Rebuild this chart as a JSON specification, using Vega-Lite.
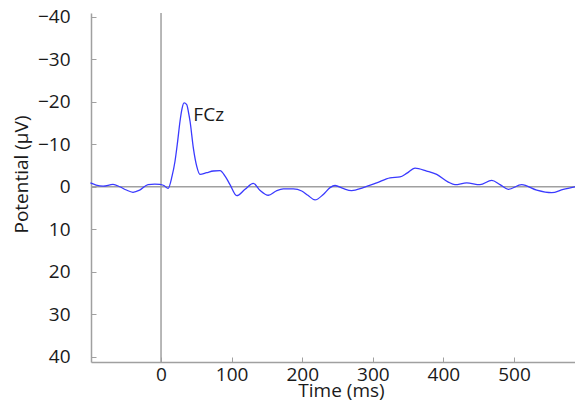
{
  "$schema": "https://vega.github.io/schema/vega-lite/v6.json",
  "width": 484,
  "height": 349,
  "autosize": {"type": "none"},
  "padding": {"left": 91, "top": 13, "right": 0, "bottom": 40},
  "background": "white",
  "config": {
    "view": {"stroke": null},
    "axis": {
      "grid": false,
      "domainColor": "#a0a0a0",
      "domainWidth": 1.5,
      "tickColor": "#a0a0a0",
      "tickWidth": 1,
      "tickSize": -5,
      "labelFont": "Open Sans",
      "labelFontSize": 19,
      "labelColor": "#1a1a1a",
      "titleFont": "Open Sans",
      "titleFontSize": 19,
      "titleFontWeight": "normal",
      "titleColor": "#1a1a1a"
    },
    "axisX": {
      "labelPadding": 8,
      "labelBaseline": "top",
      "titleX": 250,
      "titleY": 34,
      "titleBaseline": "alphabetic",
      "titleAlign": "center"
    },
    "axisY": {
      "labelPadding": 26,
      "titleX": -70,
      "titleY": 161,
      "titleBaseline": "middle",
      "titleAlign": "center",
      "titleAngle": -90
    }
  },
  "layer": [
    {
      "data": {"values": [{"t": 0}]},
      "mark": {"type": "rule", "color": "#a0a0a0", "strokeWidth": 1.5},
      "encoding": {
        "x": {"field": "t", "type": "quantitative", "scale": {"domain": [-99.2, 586.4], "nice": false, "zero": false}, "title": "Time (ms)", "axis": {"values": [0, 100, 200, 300, 400, 500]}}
      }
    },
    {
      "data": {"values": [{"v": 0}]},
      "mark": {"type": "rule", "color": "#a0a0a0", "strokeWidth": 1.5},
      "encoding": {
        "y": {"field": "v", "type": "quantitative", "scale": {"domain": [-40.85, 41.2], "nice": false, "zero": false, "reverse": true}, "title": "Potential (μV)", "axis": {"values": [-40, -30, -20, -10, 0, 10, 20, 30, 40]}}
      }
    },
    {
      "data": {"values": [
        {"t": -100, "v": -0.9}, {"t": -92, "v": -0.4}, {"t": -82, "v": -0.15}, {"t": -68, "v": -0.55},
        {"t": -58.5, "v": 0}, {"t": -50, "v": 0.7}, {"t": -39.7, "v": 1.3}, {"t": -30.2, "v": 0.8},
        {"t": -18.4, "v": -0.5}, {"t": -8.9, "v": -0.6}, {"t": -1.8, "v": -0.55}, {"t": 4, "v": -0.3},
        {"t": 10, "v": 0.4}, {"t": 15.6, "v": -2.5}, {"t": 19.8, "v": -6}, {"t": 23.4, "v": -10.5},
        {"t": 26.9, "v": -15.4}, {"t": 29.7, "v": -18.3}, {"t": 32.6, "v": -19.7}, {"t": 36.4, "v": -19.3},
        {"t": 38.9, "v": -17.5}, {"t": 41.1, "v": -15.4}, {"t": 45.8, "v": -9.1}, {"t": 50.6, "v": -4.8},
        {"t": 55.2, "v": -2.9}, {"t": 64.7, "v": -3.3}, {"t": 74.1, "v": -3.7}, {"t": 83.6, "v": -3.8},
        {"t": 90.7, "v": -2.5}, {"t": 97.7, "v": -0.5}, {"t": 107.2, "v": 2.1}, {"t": 119, "v": 0.6},
        {"t": 130.7, "v": -0.8}, {"t": 140, "v": 0.8}, {"t": 152, "v": 2.0}, {"t": 163, "v": 1.0},
        {"t": 173.2, "v": 0.5}, {"t": 187.4, "v": 0.5}, {"t": 199.3, "v": 1.0}, {"t": 208, "v": 2.0},
        {"t": 218.1, "v": 3.1}, {"t": 229.9, "v": 1.8}, {"t": 239.4, "v": 0.2}, {"t": 246.5, "v": -0.3},
        {"t": 257.8, "v": 0.4}, {"t": 270.1, "v": 0.9}, {"t": 286.5, "v": 0.2}, {"t": 305.5, "v": -0.9},
        {"t": 324.4, "v": -2.1}, {"t": 338.5, "v": -2.3}, {"t": 348.4, "v": -3.2}, {"t": 359.8, "v": -4.4},
        {"t": 376.3, "v": -3.7}, {"t": 390.5, "v": -2.9}, {"t": 406.9, "v": -1.1}, {"t": 416.4, "v": -0.5},
        {"t": 433, "v": -0.9}, {"t": 451.8, "v": -0.5}, {"t": 468.4, "v": -1.5}, {"t": 480.2, "v": -0.5},
        {"t": 491.9, "v": 0.6}, {"t": 510.9, "v": -0.5}, {"t": 532.2, "v": 0.8}, {"t": 553.4, "v": 1.4},
        {"t": 569.8, "v": 0.6}, {"t": 586.4, "v": 0}
      ]},
      "mark": {"type": "line", "color": "#3a3aff", "strokeWidth": 1.3, "interpolate": "monotone"},
      "encoding": {
        "x": {"field": "t", "type": "quantitative", "title": "Time (ms)", "axis": {"values": [0, 100, 200, 300, 400, 500]}},
        "y": {"field": "v", "type": "quantitative", "title": "Potential (μV)", "axis": {"values": [-40, -30, -20, -10, 0, 10, 20, 30, 40]}}
      }
    },
    {
      "data": {"values": [{"t": 45.8, "v": -16.9, "label": "FCz"}]},
      "mark": {"type": "text", "align": "left", "baseline": "middle", "font": "Open Sans", "fontSize": 19, "color": "#1a1a1a"},
      "encoding": {
        "x": {"field": "t", "type": "quantitative", "title": "Time (ms)", "axis": {"values": [0, 100, 200, 300, 400, 500]}},
        "y": {"field": "v", "type": "quantitative", "title": "Potential (μV)", "axis": {"values": [-40, -30, -20, -10, 0, 10, 20, 30, 40]}},
        "text": {"field": "label"}
      }
    }
  ]
}
